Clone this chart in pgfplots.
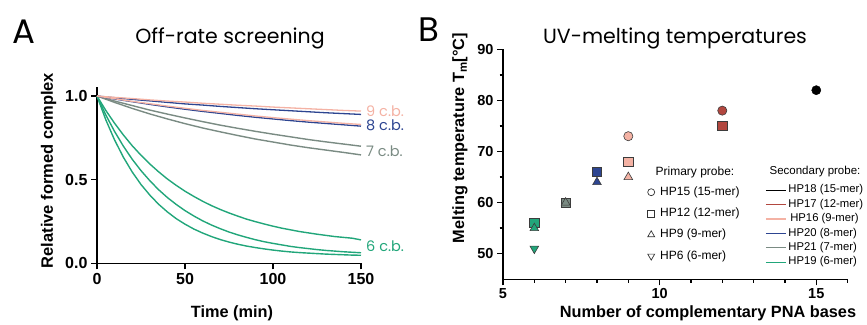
\documentclass[border=0pt]{standalone}
\usepackage{fontspec}
\setmainfont{Liberation Sans}
\newfontfamily\futura{Poppins}
\usepackage{pgfplots}
\pgfplotsset{compat=1.18}
\definecolor{cpink}{RGB}{244,178,164}
\definecolor{cblue}{RGB}{45,69,145}
\definecolor{cgray}{RGB}{122,139,131}
\definecolor{cgreen}{RGB}{33,166,122}
\definecolor{cred}{RGB}{178,71,63}
\definecolor{cedge}{RGB}{60,60,60}
\begin{document}
\begin{tikzpicture}[x=1pt,y=1pt]
\useasboundingbox (0,0) rectangle (867,324);
% ---------------- Panel A ----------------
\begin{axis}[
  at={(97pt,60.7pt)}, anchor=south west, scale only axis,
  width=264pt, height=176.3pt,
  xmin=0, xmax=150, ymin=0, ymax=1.054,
  axis x line*=bottom, axis y line*=left,
  x axis line style={-}, y axis line style={-},
  axis line style={line width=1.5pt, black},
  tick align=outside, major tick length=6pt,
  tick style={line width=1.4pt, black},
  xtick={0,50,100,150}, ytick={0,0.5,1}, yticklabels={0.0,0.5,1.0},
  /pgf/number format/assume math mode=true,
  ticklabel style={font=\bfseries\fontsize{16}{16}\selectfont},
  clip=false,
]
\addplot[cgreen, line width=1.4pt] coordinates {
(0,1.000)(5,0.914)(10,0.837)(15,0.767)(20,0.703)(25,0.646)(30,0.594)(35,0.547)(40,0.504)(45,0.466)(50,0.431)(55,0.400)(60,0.371)(65,0.345)(70,0.322)(75,0.301)(80,0.282)(85,0.264)(90,0.249)(95,0.235)(100,0.222)(105,0.210)(110,0.200)(115,0.190)(120,0.182)(125,0.174)(130,0.167)(135,0.160)(140,0.155)(145,0.150)(150,0.140)};
\addplot[cgreen, line width=1.4pt] coordinates {
(0,1.000)(5,0.887)(10,0.788)(15,0.700)(20,0.622)(25,0.554)(30,0.494)(35,0.440)(40,0.393)(45,0.352)(50,0.315)(55,0.283)(60,0.254)(65,0.229)(70,0.207)(75,0.187)(80,0.170)(85,0.155)(90,0.141)(95,0.129)(100,0.119)(105,0.110)(110,0.101)(115,0.094)(120,0.088)(125,0.082)(130,0.077)(135,0.073)(140,0.069)(145,0.066)(150,0.063)};
\addplot[cgreen, line width=1.4pt] coordinates {
(0,1.000)(5,0.858)(10,0.737)(15,0.634)(20,0.546)(25,0.471)(30,0.408)(35,0.353)(40,0.307)(45,0.267)(50,0.234)(55,0.205)(60,0.181)(65,0.160)(70,0.142)(75,0.127)(80,0.114)(85,0.103)(90,0.094)(95,0.086)(100,0.079)(105,0.073)(110,0.068)(115,0.064)(120,0.061)(125,0.058)(130,0.055)(135,0.053)(140,0.051)(145,0.049)(150,0.048)};
\addplot[cgray, line width=1.4pt] coordinates {
(0,1.000)(10,0.962)(20,0.926)(30,0.893)(40,0.863)(50,0.835)(60,0.809)(70,0.786)(80,0.764)(90,0.743)(100,0.725)(110,0.707)(120,0.691)(130,0.677)(140,0.663)(150,0.648)};
\addplot[cgray, line width=1.4pt] coordinates {
(0,1.000)(10,0.970)(20,0.943)(30,0.916)(40,0.892)(50,0.869)(60,0.847)(70,0.826)(80,0.807)(90,0.789)(100,0.772)(110,0.756)(120,0.740)(130,0.726)(140,0.713)(150,0.700)};
\addplot[cblue, line width=1.3pt] coordinates {
(0,1.000)(10,0.990)(20,0.980)(30,0.971)(40,0.962)(50,0.953)(60,0.946)(70,0.938)(80,0.931)(90,0.924)(100,0.918)(110,0.912)(120,0.906)(130,0.900)(140,0.895)(150,0.890)};
\addplot[cblue, line width=1.3pt] coordinates {
(0,1.000)(10,0.982)(20,0.966)(30,0.950)(40,0.935)(50,0.921)(60,0.908)(70,0.896)(80,0.884)(90,0.873)(100,0.863)(110,0.853)(120,0.844)(130,0.836)(140,0.828)(150,0.820)};
\addplot[cpink, line width=1.3pt] coordinates {
(0,1.000)(10,0.992)(20,0.985)(30,0.977)(40,0.970)(50,0.964)(60,0.957)(70,0.951)(80,0.945)(90,0.940)(100,0.934)(110,0.929)(120,0.924)(130,0.919)(140,0.914)(150,0.910)};
\addplot[cpink, line width=1.3pt] coordinates {
(0,1.000)(10,0.984)(20,0.968)(30,0.954)(40,0.940)(50,0.927)(60,0.914)(70,0.903)(80,0.892)(90,0.881)(100,0.871)(110,0.862)(120,0.853)(130,0.845)(140,0.837)(150,0.830)};
\end{axis}
% ---------------- Panel B ----------------
\begin{axis}[
  at={(503pt,44.7pt)}, anchor=south west, scale only axis,
  width=344.6pt, height=230pt,
  xmin=5, xmax=16, ymin=45, ymax=90,
  axis x line*=bottom, axis y line*=left,
  x axis line style={-}, y axis line style={-},
  axis line style={line width=1.5pt, black},
  tick align=outside, major tick length=6pt, minor tick length=3.5pt,
  tick style={line width=1.4pt, black},
  xtick={5,10,15}, minor xtick={6,7,8,9,11,12,13,14,16},
  ytick={50,60,70,80,90}, minor ytick={55,65,75,85},
  /pgf/number format/assume math mode=true,
  ticklabel style={font=\bfseries\fontsize{14.5}{14.5}\selectfont},
  clip=false,
  legend image code/.code={\path[draw=none,fill=none] (-5pt,-3pt) rectangle (5pt,3pt); \draw[#1] plot coordinates {(0pt,0pt)};},
  legend style={at={(0.415,0.4026)}, anchor=north west, draw=none, fill=none,
    inner sep=0pt, row sep=10.7pt, column sep=4pt,
    font=\fontsize{12}{13}\selectfont,
    nodes={inner sep=0pt, text height=8.2pt, text depth=2.4pt}},
  legend cell align=left,
]
\addplot[only marks, mark=*, mark size=4.6pt, draw=black, fill=black, forget plot] coordinates {(15,82)};
\addplot[only marks, mark=*, mark size=4.6pt, draw=cedge, fill=cred, line width=0.6pt, forget plot] coordinates {(12,78)};
\addplot[only marks, mark=*, mark size=4.6pt, draw=cedge, fill=cpink, line width=0.6pt, forget plot] coordinates {(9,73)};
\addplot[only marks, mark=square*, mark size=4.6pt, draw=cedge, fill=cred, line width=0.6pt, forget plot] coordinates {(12,75)};
\addplot[only marks, mark=square*, mark size=4.6pt, draw=cedge, fill=cpink, line width=0.6pt, forget plot] coordinates {(9,68)};
\addplot[only marks, mark=square*, mark size=4.6pt, draw=cedge, fill=cblue, line width=0.6pt, forget plot] coordinates {(8,66)};
\addplot[only marks, mark=square*, mark size=4.6pt, draw=cedge, fill=cgray, line width=0.6pt, forget plot] coordinates {(7,60)};
\addplot[only marks, mark=square*, mark size=4.6pt, draw=cedge, fill=cgreen, line width=0.6pt, forget plot] coordinates {(6,56)};
\addplot[only marks, mark=triangle*, mark size=5pt, draw=cedge, fill=cpink, line width=0.6pt, forget plot] coordinates {(9,65)};
\addplot[only marks, mark=triangle*, mark size=5pt, draw=cedge, fill=cblue, line width=0.6pt, forget plot] coordinates {(8,64)};
\addplot[only marks, mark=triangle*, mark size=5pt, draw=cedge, fill=cgray, line width=0.6pt, forget plot] coordinates {(7,60)};
\addplot[only marks, mark=triangle*, mark size=5pt, draw=cedge, fill=cgreen, line width=0.6pt, forget plot] coordinates {(6,55)};
\addplot[only marks, mark=triangle*, mark size=5pt, draw=cedge, fill=cgreen, line width=0.6pt, mark options={rotate=180}, forget plot] coordinates {(6,51)};
\addlegendimage{only marks, mark=o, mark size=3.5pt, draw=black!80, line width=0.7pt}
\addlegendentry{HP15 (15-mer)}
\addlegendimage{only marks, mark=square, mark size=3.5pt, draw=black!80, line width=0.7pt}
\addlegendentry{HP12 (12-mer)}
\addlegendimage{only marks, mark=triangle, mark size=4pt, draw=black!80, line width=0.7pt}
\addlegendentry{HP9 (9-mer)}
\addlegendimage{only marks, mark=triangle, mark size=4pt, draw=black!80, line width=0.7pt, mark options={rotate=180}}
\addlegendentry{HP6 (6-mer)}
\end{axis}
\begin{axis}[
  at={(503pt,44.7pt)}, anchor=south west, scale only axis,
  width=344.6pt, height=230pt,
  xmin=5, xmax=16, ymin=45, ymax=90, hide axis,
  legend image code/.code={\draw[#1] (0pt,0pt) -- (20pt,0pt);},
  legend style={at={(0.7603,0.411)}, anchor=north west, draw=none, fill=none,
    inner sep=0pt, row sep=3.9pt, column sep=2pt,
    font=\fontsize{11.3}{12}\selectfont,
    nodes={inner sep=0pt, text height=8pt, text depth=2.5pt}},
  legend cell align=left,
]
\addlegendimage{black, line width=1.2pt}\addlegendentry{HP18 (15-mer)}
\addlegendimage{cred, line width=1.2pt}\addlegendentry{HP17 (12-mer)}
\addlegendimage{cpink, line width=1.2pt}\addlegendentry{\,HP16 (9-mer)}
\addlegendimage{cblue, line width=1.2pt}\addlegendentry{HP20 (8-mer)}
\addlegendimage{cgray, line width=1.2pt}\addlegendentry{HP21 (7-mer)}
\addlegendimage{cgreen, line width=1.2pt}\addlegendentry{HP19 (6-mer)}
\end{axis}
% ---------------- text ----------------
\node[anchor=base west, inner sep=0pt, font=\futura\fontsize{34}{34}\selectfont] at (12,280.7) {A};
\node[anchor=base west, inner sep=0pt, font=\futura\fontsize{34}{34}\selectfont] at (418,282) {B};
\node[anchor=base, inner sep=0pt, font=\futura\fontsize{20.5}{20.5}\selectfont] at (230,280.5) {Off-rate screening};
\node[anchor=base, inner sep=0pt, font=\futura\fontsize{20.5}{20.5}\selectfont] at (675,280.5) {UV-melting temperatures};
\node[anchor=base, inner sep=0pt, font=\bfseries\fontsize{16.3}{16.3}\selectfont] at (232,7) {Time (min)};
\node[anchor=base, inner sep=0pt, font=\bfseries\fontsize{16.3}{16.3}\selectfont] at (708,7) {Number of complementary PNA bases};
\node[rotate=90, inner sep=0pt, font=\bfseries\fontsize{16.5}{16.5}\selectfont] at (48.5,153.5) {Relative formed complex};
\node[rotate=90, inner sep=0pt, font=\bfseries\fontsize{16.3}{16.3}\selectfont] at (460,186) {Melting temperature T\textsubscript{m}[°C]};
\node[inner sep=0pt, font=\fontsize{12}{12}\selectfont] at (695,152) {Primary probe:};
\node[inner sep=0pt, font=\fontsize{11.5}{11.5}\selectfont] at (815,152) {Secondary probe:};
\node[anchor=west, inner sep=0pt, text=cpink, font=\futura\fontsize{14.5}{14.5}\selectfont] at (366,213) {9 c.b.};
\node[anchor=west, inner sep=0pt, text=cblue, font=\futura\fontsize{14.5}{14.5}\selectfont] at (366,199) {8 c.b.};
\node[anchor=west, inner sep=0pt, text=cgray, font=\futura\fontsize{14.5}{14.5}\selectfont] at (366,172.5) {7 c.b.};
\node[anchor=west, inner sep=0pt, text=cgreen, font=\futura\fontsize{14.5}{14.5}\selectfont] at (366,77.3) {6 c.b.};
\end{tikzpicture}
\end{document}
